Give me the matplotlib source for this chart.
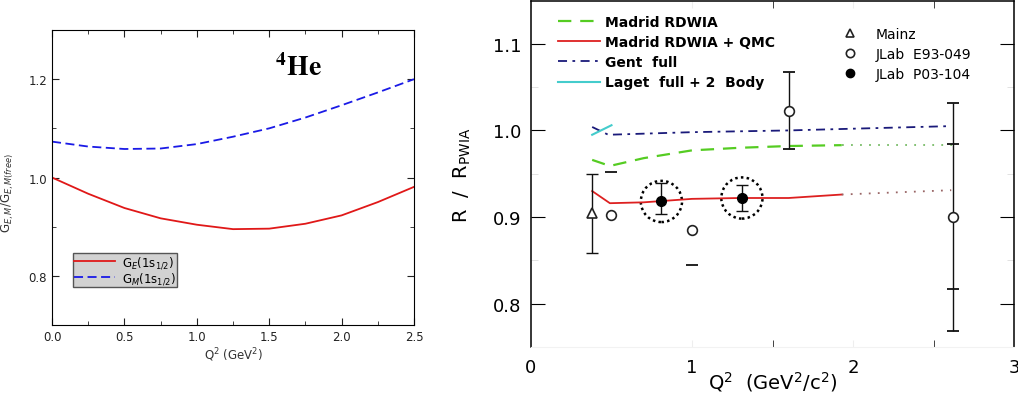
import matplotlib
matplotlib.use("Agg")
import matplotlib.pyplot as plt
from matplotlib.ticker import MultipleLocator, FixedLocator
import numpy as np

# ---- left panel: 4He form factor ratios ----
q2_ff = [0.0, 0.25, 0.5, 0.75, 1.0, 1.25, 1.5, 1.75, 2.0, 2.25, 2.5]
ge_ratio = [1.000, 0.967, 0.938, 0.917, 0.904, 0.895, 0.896, 0.906, 0.923, 0.950, 0.981]
gm_ratio = [1.073, 1.063, 1.058, 1.059, 1.068, 1.083, 1.100, 1.122, 1.147, 1.173, 1.200]

# ---- right panel: R / R_PWIA ----
madrid_x = [0.38, 0.49, 0.7, 1.0, 1.3, 1.6, 1.93]
madrid_y = [0.966, 0.959, 0.968, 0.977, 0.980, 0.982, 0.983]
madrid_ext_x = [1.93, 2.65]
madrid_ext_y = [0.983, 0.983]

qmc_x = [0.38, 0.49, 0.7, 1.0, 1.3, 1.6, 1.93]
qmc_y = [0.930, 0.916, 0.917, 0.921, 0.922, 0.922, 0.926]
qmc_ext_x = [1.93, 2.61]
qmc_ext_y = [0.926, 0.931]

gent_x = [0.38, 0.48, 1.0, 1.6, 2.0, 2.61]
gent_y = [1.004, 0.995, 0.998, 1.000, 1.002, 1.005]

laget_x = [0.38, 0.5]
laget_y = [0.995, 1.006]

mainz_x = [0.38]
mainz_y = [0.905]
mainz_lo = [0.859]
mainz_hi = [0.950]

e93_x = [0.5, 1.0, 1.6, 2.62]
e93_y = [0.902, 0.885, 1.022, 0.900]
e93_lo = [np.nan, 0.845, 0.978, 0.768]
e93_hi = [0.952, np.nan, 1.067, 1.032]
e93_in_lo = [np.nan, np.nan, np.nan, 0.817]
e93_in_hi = [np.nan, np.nan, np.nan, 0.984]

p03_x = [0.81, 1.31]
p03_y = [0.918, 0.922]
p03_lo = [0.903, 0.907]
p03_hi = [0.939, 0.937]

fig = plt.figure(figsize=(10.18, 4.06), dpi=100)

# ================= left panel =================
ax1 = fig.add_axes([0.0511, 0.197, 0.3556, 0.7266])
ax1.plot(q2_ff, ge_ratio, color="#e01818", lw=1.3, label="G$_E$(1s$_{1/2}$)")
ax1.plot(q2_ff, gm_ratio, color="#1a1ae6", lw=1.3, ls=(0, (5, 2.5)), label="G$_M$(1s$_{1/2}$)")
ax1.set_xlim(0, 2.5)
ax1.set_ylim(0.7, 1.3)
ax1.xaxis.set_major_locator(MultipleLocator(0.5))
ax1.xaxis.set_minor_locator(MultipleLocator(0.25))
ax1.yaxis.set_major_locator(FixedLocator([0.8, 1.0, 1.2]))
ax1.yaxis.set_minor_locator(MultipleLocator(0.1))
ax1.xaxis.set_major_formatter(plt.FormatStrFormatter("%.1f"))
ax1.yaxis.set_major_formatter(plt.FormatStrFormatter("%.1f"))
ax1.tick_params(which="both", direction="in", top=True, right=True, labelsize=8.5, colors="#222222")
ax1.tick_params(which="major", length=5)
ax1.tick_params(which="minor", length=3)
ax1.set_xlabel("Q$^2$ (GeV$^2$)", fontsize=8.5, labelpad=2, color="#333333")
ax1.set_ylabel("G$_{E,M}$/G$_{E,M(free)}$", fontsize=8.5, color="#333333")
ax1.yaxis.set_label_coords(-0.1, 0.45)
ax1.text(1.54, 1.224, "$\\mathbf{^{4}He}$", fontsize=20, math_fontfamily="stix",
         ha="left", va="center")
leg1 = ax1.legend(loc="lower left", bbox_to_anchor=(0.058, 0.128), borderaxespad=0,
                  fontsize=8.5, frameon=True, fancybox=False, handlelength=3.4,
                  handletextpad=0.6, labelspacing=0.0, borderpad=0.12)
leg1.get_frame().set_facecolor("#d2d2d2")
leg1.get_frame().set_edgecolor("#555555")
leg1.get_frame().set_alpha(1)

# ================= right panel =================
ax2 = fig.add_axes([0.5216, 0.1429, 0.4745, 0.8534])
ax2.plot(madrid_x, madrid_y, color="#55cc22", lw=1.6, ls=(0, (6, 4)), label="Madrid RDWIA")
ax2.plot(madrid_ext_x, madrid_ext_y, color="#77bb66", lw=1.3, ls=(0, (1, 4)))
ax2.plot(qmc_x, qmc_y, color="#dd2020", lw=1.3, label="Madrid RDWIA + QMC")
ax2.plot(qmc_ext_x, qmc_ext_y, color="#996666", lw=1.3, ls=(0, (1, 4)))
ax2.plot(gent_x, gent_y, color="#1a1a7a", lw=1.3, ls=(0, (5, 3, 1.5, 3)), label="Gent  full")
ax2.plot(laget_x, laget_y, color="#44cccc", lw=1.5, label="Laget  full + 2  Body")

# Mainz
ax2.errorbar(mainz_x, mainz_y, yerr=[np.subtract(mainz_y, mainz_lo), np.subtract(mainz_hi, mainz_y)],
             fmt="none", ecolor="#111111", elinewidth=1, capsize=4.5, capthick=1)
ax2.plot(mainz_x, mainz_y, ls="none", marker="^", ms=7, mfc="white", mec="#222222", mew=1.2)

# JLab E93-049
ax2.vlines(e93_x, e93_lo, e93_hi, color="#111111", lw=1)
for lo_or_hi in (e93_lo, e93_hi, e93_in_lo, e93_in_hi):
    ax2.plot(e93_x, lo_or_hi, ls="none", marker="_", ms=9, mew=1.3, color="#111111")
ax2.plot(e93_x, e93_y, ls="none", marker="o", ms=7, mfc="white", mec="#222222", mew=1.2)

# JLab P03-104
ax2.errorbar(p03_x, p03_y, yerr=[np.subtract(p03_y, p03_lo), np.subtract(p03_hi, p03_y)],
             fmt="none", ecolor="#111111", elinewidth=1, capsize=4.5, capthick=1)
ax2.plot(p03_x, p03_y, ls="none", marker="o", ms=7, color="black")
ax2.scatter(p03_x, p03_y, s=880, facecolors="none", edgecolors="black", linewidths=1.8,
            linestyle=(0, (1, 1.3)))

ax2.set_xlim(0, 3)
ax2.set_ylim(0.75, 1.15)
ax2.xaxis.set_major_locator(FixedLocator([0, 1, 2, 3]))
ax2.xaxis.set_minor_locator(FixedLocator([1.5, 2.5]))
ax2.yaxis.set_major_locator(FixedLocator([0.8, 0.9, 1.0, 1.1]))
ax2.yaxis.set_minor_locator(FixedLocator([0.85, 0.95, 1.05]))
ax2.xaxis.set_major_formatter(plt.FormatStrFormatter("%d"))
ax2.yaxis.set_major_formatter(plt.FormatStrFormatter("%.1f"))
ax2.tick_params(axis="x", which="major", direction="in", length=5, color="#eeeeee",
                labelsize=13, pad=8, top=True)
ax2.tick_params(axis="x", which="minor", direction="in", length=5, color="#222222", top=True)
ax2.tick_params(axis="y", which="major", direction="in", length=10, labelsize=13, right=True, pad=7)
ax2.tick_params(axis="y", which="minor", direction="in", length=5, color="#dddddd", right=True)
ax2.spines["bottom"].set_color("#f2f2f2")
for s in ("left", "top", "right"):
    ax2.spines[s].set_linewidth(1.1)
ax2.set_xlabel("Q$^2$  (GeV$^2$/c$^2$)", fontsize=14, labelpad=-5)
ax2.set_ylabel("R  /  R$_{\\mathrm{PWIA}}$", fontsize=14, labelpad=14)

h, l = ax2.get_legend_handles_labels()
leg_a = ax2.legend(h, l, loc="upper left", bbox_to_anchor=(0.045, 0.975), frameon=False,
                   prop={"weight": "bold", "size": 10}, handlelength=3.0, handletextpad=0.35,
                   labelspacing=0.45, borderaxespad=0)
ax2.add_artist(leg_a)

mk_tri = plt.Line2D([], [], ls="none", marker="^", ms=6, mfc="white", mec="#222222", mew=1.2)
mk_open = plt.Line2D([], [], ls="none", marker="o", ms=6, mfc="white", mec="#222222", mew=1.2)
mk_fill = plt.Line2D([], [], ls="none", marker="o", ms=6, color="black")
ax2.legend([mk_tri, mk_open, mk_fill], ["Mainz", "JLab  E93-049", "JLab  P03-104"],
           loc="upper left", bbox_to_anchor=(0.635, 0.94), frameon=False,
           prop={"size": 10}, handlelength=1.0, handletextpad=1.3, labelspacing=0.45,
           borderaxespad=0)

fig.savefig("out.png", dpi=100)
